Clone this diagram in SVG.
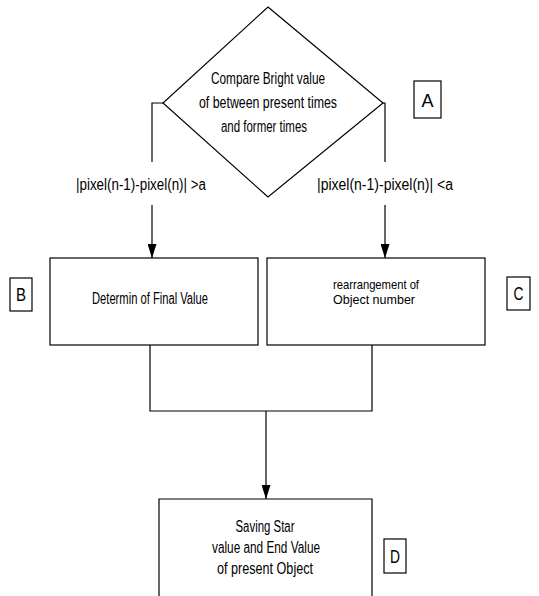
<svg xmlns="http://www.w3.org/2000/svg" width="539" height="596" viewBox="0 0 539 596">
  <style>
    .shape { fill: #ffffff; stroke: #000000; stroke-width: 1.2; }
    .line { fill: none; stroke: #000000; stroke-width: 1.2; }
    .txt { font-family: "Liberation Sans", Arial, sans-serif; font-size: 16px; fill: #000000; text-anchor: middle; }
    .tight { font-size: 13px; }
    .tag { font-family: "Liberation Sans", Arial, sans-serif; font-size: 19px; fill: #000000; text-anchor: middle; }
  </style>
  <defs>
    <marker id="arrow" markerWidth="15" markerHeight="9" refX="14" refY="4.5" orient="auto" markerUnits="userSpaceOnUse">
      <path d="M0,0 L14,4.5 L0,9 Z" fill="#000000"/>
    </marker>
  </defs>
  <rect width="539" height="596" fill="#ffffff"/>

  <!-- connectors -->
  <g id="connectors">
    <path class="line" d="M163,103 H152 V162"/>
    <path class="line" d="M152,205 V258" marker-end="url(#arrow)"/>
    <path class="line" d="M383,103 H385 V162"/>
    <path class="line" d="M385,205 V258" marker-end="url(#arrow)"/>
    <path class="line" d="M150,345 V411 H372 V345"/>
    <path class="line" d="M266,411 V499" marker-end="url(#arrow)"/>
    <text class="txt" x="141" y="190" textLength="130" lengthAdjust="spacingAndGlyphs">|pixel(n-1)-pixel(n)| &gt;a</text>
    <text class="txt" x="385" y="190" textLength="136" lengthAdjust="spacingAndGlyphs">|pixel(n-1)-pixel(n)| &lt;a</text>
  </g>

  <!-- A: comparison -->
  <g id="node-a">
    <polygon class="shape" points="268,7 383,103 268,197 163,103"/>
    <text class="txt" x="268" y="84" textLength="114" lengthAdjust="spacingAndGlyphs">Compare Bright value</text>
    <text class="txt" x="268" y="108" textLength="138" lengthAdjust="spacingAndGlyphs">of between present times</text>
    <text class="txt" x="264" y="132" textLength="86" lengthAdjust="spacingAndGlyphs">and former times</text>
  </g>
  <g id="tag-a">
    <rect class="shape" x="414" y="81" width="27" height="37"/>
    <text class="tag" x="427.5" y="107" textLength="12" lengthAdjust="spacingAndGlyphs">A</text>
  </g>

  <!-- B: final value -->
  <g id="node-b">
    <rect class="shape" x="50" y="258" width="208" height="87"/>
    <text class="txt" x="150" y="304" textLength="116" lengthAdjust="spacingAndGlyphs">Determin of Final Value</text>
  </g>
  <g id="tag-b">
    <rect class="shape" x="10" y="278" width="22" height="33"/>
    <text class="tag" x="21" y="301" textLength="10" lengthAdjust="spacingAndGlyphs">B</text>
  </g>

  <!-- C: object renumbering -->
  <g id="node-c">
    <rect class="shape" x="267" y="258" width="218" height="87"/>
    <text class="txt tight" x="376" y="289" textLength="86" lengthAdjust="spacingAndGlyphs">rearrangement of</text>
    <text class="txt tight" x="374" y="304" textLength="82" lengthAdjust="spacingAndGlyphs">Object number</text>
  </g>
  <g id="tag-c">
    <rect class="shape" x="507" y="277" width="23" height="33"/>
    <text class="tag" x="518.5" y="300" textLength="10" lengthAdjust="spacingAndGlyphs">C</text>
  </g>

  <!-- D: save start/end values -->
  <g id="node-d">
    <path class="line" d="M159,597 V499 H372 V597"/>
    <text class="txt" x="265" y="532" textLength="59" lengthAdjust="spacingAndGlyphs">Saving Star</text>
    <text class="txt" x="266" y="553" textLength="108" lengthAdjust="spacingAndGlyphs">value and End Value</text>
    <text class="txt" x="265" y="574" textLength="96" lengthAdjust="spacingAndGlyphs">of present Object</text>
  </g>
  <g id="tag-d">
    <rect class="shape" x="384" y="539" width="22" height="34"/>
    <text class="tag" x="395" y="563" textLength="10" lengthAdjust="spacingAndGlyphs">D</text>
  </g>
</svg>
